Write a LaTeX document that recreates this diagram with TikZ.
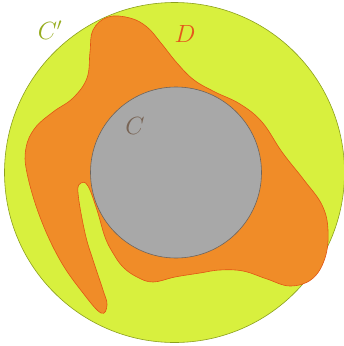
\documentclass[tikz,border=0pt]{standalone}
\begin{document}
\begin{tikzpicture}[x=1pt,y=-1pt]
\definecolor{cgreen}{RGB}{216,240,62}
\definecolor{cgreenline}{RGB}{140,160,30}
\definecolor{cgreentext}{RGB}{150,172,30}
\definecolor{corange}{RGB}{240,140,40}
\definecolor{corangeline}{RGB}{225,85,20}
\definecolor{cdtext}{RGB}{228,88,28}
\definecolor{cgray}{RGB}{168,168,168}
\definecolor{cgrayline}{RGB}{110,100,92}
\definecolor{cctext}{RGB}{120,100,85}
\tikzset{lbl/.style={font=\fontsize{23}{26}\selectfont}}
\useasboundingbox (0,0) rectangle (344,346);
\fill[white] (0,0) rectangle (344,346);
\draw[cgreenline, fill=cgreen, line width=0.6pt] (174.5,172.5) circle[radius=170];
\draw[corangeline, fill=corange, line width=0.6pt] plot[smooth cycle, tension=0.65] coordinates {
(108,17) (130,18) (147,27) (161,43) (177,63) (194,80) (215,92) (240,104) (262,122) (282,152) (304,180) (322,205) (328,230) (325,258) (312,279) (290,286) (267,279) (243,271) (220,270) (200,273) (175,277) (153,282) (137,277) (123,267) (113,253) (105,237) (97,210) (88,186) (81,183) (78,193) (85,233) (93,260) (103,290) (107,305) (101,313) (83,293) (60,260) (40,217) (27,173) (26,148) (35,128) (53,112) (73,98) (87,78) (90,52) (93,30)};
\draw[cgrayline, fill=cgray, line width=0.6pt] (176,172.5) circle[radius=85.5];
\node[lbl, text=cgreentext] (cp) at (50,30) {$C'$};
\node[lbl, text=cdtext] (d) at (185,34) {$D$};
\node[lbl, text=cctext] (c) at (135,126) {$C$};
\end{tikzpicture}
\end{document}
